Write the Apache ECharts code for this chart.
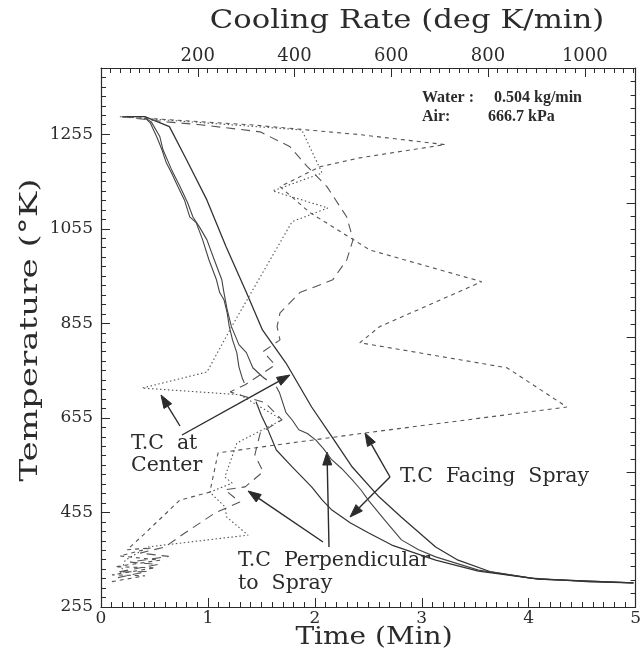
<!DOCTYPE html>
<html>
<head>
<meta charset="utf-8">
<script src="https://cdn.jsdelivr.net/npm/echarts@6/dist/echarts.min.js"></script>
<style>
  html, body { margin: 0; padding: 0; background: #fff; }
  #chart { width: 644px; height: 653px; }
</style>
</head>
<body>
<div id="chart"></div>
<script>
// Temperature histories: [time (min), temperature (K)]
const tempFacing = [
  [0.20, 1292], [0.41, 1292], [0.64, 1271], [0.80, 1201], [0.99, 1116], [1.17, 1017],
  [1.36, 920], [1.51, 841], [1.73, 771], [1.97, 678], [2.16, 615], [2.35, 551],
  [2.60, 488], [2.81, 445], [3.13, 382], [3.34, 354], [3.65, 329], [4.02, 316],
  [4.58, 308], [4.98, 306]
];
const tempCenterA = [
  [0.41, 1290], [0.46, 1279], [0.52, 1250], [0.57, 1222], [0.61, 1195], [0.66, 1173],
  [0.72, 1144], [0.78, 1116], [0.83, 1080], [0.89, 1068], [0.95, 1032], [1.01, 989],
  [1.08, 947], [1.11, 920], [1.15, 905], [1.18, 877], [1.20, 848], [1.23, 820],
  [1.27, 793], [1.29, 763], [1.32, 740], [1.34, 729]
];
const tempCenterB = [
  [0.41, 1290], [0.47, 1281], [0.55, 1250], [0.58, 1222], [0.66, 1180], [0.74, 1144],
  [0.81, 1110], [0.86, 1080], [0.92, 1059], [0.99, 1032], [1.06, 989], [1.13, 947],
  [1.15, 920], [1.18, 884], [1.22, 848], [1.29, 810], [1.36, 793], [1.42, 761],
  [1.51, 742], [1.55, 735]
];
const tempCenterTail = [
  [1.64, 721], [1.67, 708], [1.73, 666], [1.79, 650], [1.85, 630], [1.93, 622],
  [2.01, 608], [2.08, 590], [2.16, 566], [2.25, 548], [2.35, 524], [2.43, 503],
  [2.50, 481], [2.65, 440], [2.81, 397], [2.97, 376], [3.13, 361], [3.53, 333],
  [4.09, 314], [4.98, 306]
];
const tempPerp = [
  [1.45, 689], [1.50, 660], [1.55, 636], [1.64, 587], [1.79, 551], [1.97, 509],
  [2.07, 481], [2.16, 460], [2.33, 433], [2.50, 412], [2.72, 386], [3.13, 354],
  [3.53, 331], [4.09, 314], [4.98, 306]
];

// Cooling rate curves: [cooling rate (K/min), temperature (K)]
const rateFacing = [
  [43, 1292], [308, 1275], [535, 1254], [711, 1233], [535, 1205], [452, 1186],
  [370, 1144], [432, 1089], [556, 1010], [787, 943], [576, 848], [535, 814],
  [839, 761], [963, 678], [545, 623], [242, 581], [225, 498], [163, 481],
  [87, 407], [54, 376], [103, 380], [39, 363], [122, 354], [29, 340], [112, 338],
  [23, 323], [91, 321], [19, 308]
];
const ratePerp = [
  [43, 1292], [136, 1281], [205, 1275], [329, 1260], [390, 1229], [426, 1187],
  [467, 1144], [508, 1080], [521, 1032], [508, 989], [479, 947], [411, 920],
  [370, 877], [364, 848], [370, 820], [335, 795], [360, 767], [298, 725],
  [267, 710], [339, 687], [374, 651], [329, 623], [318, 577], [335, 541],
  [298, 509], [256, 503], [287, 477], [236, 454], [205, 433], [174, 412],
  [132, 382], [81, 369], [140, 362], [60, 350], [118, 345], [35, 329], [95, 330], [25, 315]
];
const rateCenter = [
  [39, 1292], [415, 1264], [457, 1173], [355, 1135], [469, 1099], [395, 1070],
  [270, 848], [219, 752], [85, 718], [287, 704], [374, 651], [281, 602],
  [256, 530], [271, 517], [225, 498], [256, 467], [260, 445], [304, 407],
  [97, 382], [50, 354], [39, 323]
];

// Axis settings
const timeMin = 0, timeMax = 5, timeStep = 1, timeMinor = 0.1;
const rateMin = 0, rateMax = 1105, rateStep = 200, rateMinor = 20;
const tempMin = 255, tempMax = 1395, tempStep = 200, tempMinor = 20;

const ink = '#2b2b2b';
const serif = '"DejaVu Serif", serif';
const plain = v => String(Math.round(v * 100) / 100);

const chart = echarts.init(document.getElementById('chart'), null, { renderer: 'canvas' });

function majorAxis(extra, label) {
  return Object.assign({
    type: 'value',
    axisLine: { show: true, onZero: false, lineStyle: { color: ink, width: 1.2 } },
    axisTick: { show: true, inside: true, length: 9, lineStyle: { color: ink, width: 1 } },
    splitLine: { show: false },
    axisLabel: Object.assign({ color: ink, fontFamily: serif, fontSize: 17, formatter: plain }, label || {})
  }, extra);
}
function minorAxis(extra) {
  return Object.assign({
    type: 'value',
    axisLine: { show: false, onZero: false },
    axisTick: { show: true, inside: true, length: 5, lineStyle: { color: ink, width: 1 } },
    splitLine: { show: false },
    axisLabel: { show: false }
  }, extra);
}

function line(name, data, xIdx, type, width, color) {
  return {
    name, type: 'line', data, xAxisIndex: xIdx, yAxisIndex: 0,
    showSymbol: false, symbol: 'none', smooth: false, animation: false,
    lineStyle: { color, width, type }
  };
}

function arrow(x1, y1, x2, y2) {
  const a = Math.atan2(y2 - y1, x2 - x1);
  const L = 13, W = 4.5;
  const bx = x2 - L * Math.cos(a), by = y2 - L * Math.sin(a);
  const nx = -Math.sin(a) * W, ny = Math.cos(a) * W;
  return [
    { type: 'line', shape: { x1, y1, x2: bx, y2: by }, style: { stroke: ink, lineWidth: 1.4 } },
    { type: 'polygon', shape: { points: [[x2, y2], [bx + nx, by + ny], [bx - nx, by - ny]] },
      style: { fill: ink, stroke: ink } }
  ];
}

function txt(x, y, text, opts, extra) {
  return Object.assign({
    type: 'text', x, y,
    style: Object.assign({ text, fill: ink, font: '20.5px ' + serif, textVerticalAlign: 'middle' }, opts || {})
  }, extra || {});
}

const option = {
  backgroundColor: '#fff',
  animation: false,
  grid: { left: 101, top: 68, right: 6, bottom: 46, containLabel: false },
  xAxis: [
    majorAxis({ position: 'bottom', min: timeMin, max: timeMax, interval: timeStep }, { margin: 3 }),
    minorAxis({ position: 'bottom', min: timeMin, max: timeMax, interval: timeMinor }),
    majorAxis({ position: 'top', min: rateMin, max: rateMax, interval: rateStep },
      { fontSize: 18, margin: 3, showMinLabel: false, showMaxLabel: false }),
    minorAxis({ position: 'top', min: rateMin, max: rateMax, interval: rateMinor })
  ],
  yAxis: [
    majorAxis({ position: 'left', min: tempMin, max: tempMax, interval: tempStep },
      { margin: 8, showMaxLabel: false }),
    minorAxis({ position: 'left', min: tempMin, max: tempMax, interval: tempMinor }),
    majorAxis({ position: 'right', min: 0, max: 4, interval: 1 }, { show: false }),
    minorAxis({ position: 'right', min: 0, max: 4, interval: 0.1 })
  ],
  series: [
    line('T.C Facing Spray', tempFacing, 0, 'solid', 1.3, '#333'),
    line('T.C at Center', tempCenterA, 0, 'solid', 1.1, '#444'),
    line('T.C at Center (2)', tempCenterB, 0, 'solid', 1.1, '#444'),
    line('T.C at Center (3)', tempCenterTail, 0, 'solid', 1.1, '#444'),
    line('T.C Perpendicular to Spray', tempPerp, 0, 'solid', 1.2, '#333'),
    line('Rate Facing Spray', rateFacing, 2, [4, 4], 1.1, '#555'),
    line('Rate Perpendicular', ratePerp, 2, [9, 6], 1.1, '#555'),
    line('Rate Center', rateCenter, 2, [1.5, 2.5], 1.1, '#555')
  ],
  graphic: [
    txt(407, 21, 'Cooling Rate (deg K/min)', { font: '26px ' + serif, textAlign: 'center' },
      { scaleX: 1.18 }),
    txt(374, 637, 'Time (Min)', { font: '25px ' + serif, textAlign: 'center' },
      { scaleX: 1.12 }),
    { type: 'text', x: 31, y: 330, rotation: Math.PI / 2, scaleX: 1.42,
      style: { text: 'Temperature (°K)', fill: ink, font: '24px ' + serif,
        textAlign: 'center', textVerticalAlign: 'middle' } },
    txt(422, 98, 'Water :', { font: 'bold 16px "Liberation Serif", serif' }),
    txt(494, 98, '0.504 kg/min', { font: 'bold 16px "Liberation Serif", serif' }),
    txt(422, 117, 'Air:', { font: 'bold 16px "Liberation Serif", serif' }),
    txt(488, 117, '666.7 kPa', { font: 'bold 16px "Liberation Serif", serif' }),
    txt(131, 444, 'T.C  at'),
    txt(131, 466, 'Center'),
    txt(400, 477, 'T.C  Facing  Spray'),
    txt(238, 561, 'T.C  Perpendicular'),
    txt(238, 584, 'to  Spray'),
    ...arrow(180, 426, 161, 395),
    ...arrow(182, 435, 290, 375),
    ...arrow(323, 542, 248, 491),
    ...arrow(329, 547, 327, 452),
    ...arrow(390, 477, 365, 433),
    ...arrow(390, 477, 350, 517)
  ]
};

chart.setOption(option);
</script>
</body>
</html>
